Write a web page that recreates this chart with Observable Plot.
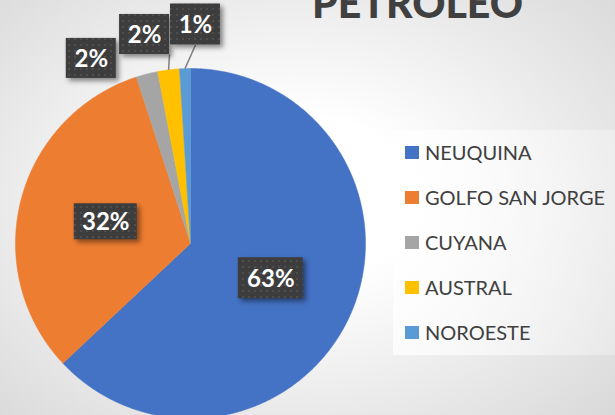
<!DOCTYPE html>
<html>
<head>
<meta charset="utf-8">
<script src="https://cdn.jsdelivr.net/npm/d3@7"></script>
<script src="https://cdn.jsdelivr.net/npm/@observablehq/plot@0.6"></script>
<style>
  html, body { margin: 0; padding: 0; }
  #wrap {
    position: relative; width: 615px; height: 415px; overflow: hidden;
    background: radial-gradient(ellipse 75% 80% at 48% 48%, #ffffff 25%, #d6d6d6 100%);
    font-family: Lato, "Open Sans", sans-serif;
  }
  #title {
    position: absolute; left: 312px; top: -18px; font-size: 41px; font-weight: 900;
    color: #404040; white-space: nowrap; line-height: 1;
  }
  #legend {
    position: absolute; left: 393px; top: 130px; width: 230px; height: 225px;
    background: linear-gradient(90deg, rgba(255,255,255,0.75), rgba(255,255,255,0.25));
  }
  .li { position: absolute; left: 12px; height: 20px; display: flex; align-items: center;
        font-size: 20px; color: #404040; white-space: nowrap; }
  .sw { width: 14px; height: 13px; margin-right: 6px; }
  #chart { position: absolute; left: 0; top: 0; }
  .lbl-box rect { filter: drop-shadow(3px 3px 2.5px rgba(0,0,0,0.45)); }
</style>
</head>
<body>
<div id="wrap">
  <div id="chart"></div>
  <div id="title"></div>
  <div id="legend"></div>
</div>
<script>
// ---- data ----
const title = "PETROLEO";
const categories = ["NEUQUINA", "GOLFO SAN JORGE", "CUYANA", "AUSTRAL", "NOROESTE"];
const values = [63, 32, 2, 2, 1];
const labels = ["63%", "32%", "2%", "2%", "1%"];

// ---- style / layout ----
const colors = ["#4472C4", "#ED7D31", "#A5A5A5", "#FFC000", "#5B9BD5"];
const R = 175, CX = 190, CY = 243;
const labelRadius = [0.5, 0.5, 1.2, 1.223, 1.252];
const labelAngleShiftDeg = [0, 0, -13.8, -5.2, 3.1];
const boxW = [65, 63, 50, 50, 50];
const boxH = [41, 36, 40, 40, 41];
const showLeader = [false, false, false, true, true];

const arcs = d3.pie().sort(null).value(d => d)(values);

// slice polygons
const pts = [];
arcs.forEach((a, i) => {
  const name = categories[i];
  pts.push({name, x: 0, y: 0});
  const n = Math.max(2, Math.ceil((a.endAngle - a.startAngle) / (Math.PI / 360)));
  for (let k = 0; k <= n; k++) {
    const t = a.startAngle + (a.endAngle - a.startAngle) * k / n;
    pts.push({name, x: Math.sin(t), y: Math.cos(t)});
  }
  pts.push({name, x: 0, y: 0});
});

// labels
const u = 1 / R; // data units per pixel
const lab = arcs.map((a, i) => {
  const mid = (a.startAngle + a.endAngle) / 2;
  const ang = mid + labelAngleShiftDeg[i] * Math.PI / 180;
  const x = labelRadius[i] * Math.sin(ang), y = labelRadius[i] * Math.cos(ang);
  const hw = boxW[i] / 2 * u, hh = boxH[i] / 2 * u;
  const ex = Math.sin(mid), ey = Math.cos(mid);
  const anchors = [x - hw, x, x + hw];
  const ax = anchors.reduce((b, c) => Math.abs(c - ex) < Math.abs(b - ex) ? c : b);
  return {text: labels[i], x, y, x1: x - hw, x2: x + hw, y1: y - hh, y2: y + hh,
          lx1: ax, ly1: y - hh, lx2: ex, ly2: ey, leader: showLeader[i]};
});

const plot = Plot.plot({
  width: 615, height: 415,
  margin: 0,
  style: {background: "transparent", overflow: "visible"},
  x: {domain: [-1, 1], range: [CX - R, CX + R], axis: null},
  y: {domain: [-1, 1], range: [CY + R, CY - R], axis: null},
  color: {domain: categories, range: colors},
  marks: [
    Plot.line(pts, {x: "x", y: "y", z: "name", fill: "name", stroke: "name", strokeWidth: 0.5, curve: "linear"}),
    Plot.link(lab.filter(d => d.leader), {x1: "lx1", y1: "ly1", x2: "lx2", y2: "ly2", stroke: "#808080", strokeWidth: 1.5}),
    Plot.rect(lab, {x1: "x1", x2: "x2", y1: "y1", y2: "y2", fill: "#404040", className: "lbl-box"}),
    Plot.text(lab, {x: "x", y: "y", text: "text", fill: "white", fontSize: 24, fontWeight: "bold",
                    fontFamily: "Lato, sans-serif", dy: 1})
  ]
});

// dotted texture for label boxes
const svg = d3.select(plot);
const defs = svg.insert("defs", ":first-child");
const pat = defs.append("pattern").attr("id", "dots").attr("patternUnits", "userSpaceOnUse")
  .attr("width", 6).attr("height", 6);
pat.append("rect").attr("width", 6).attr("height", 6).attr("fill", "#3d3d3d");
pat.append("rect").attr("x", 2).attr("y", 2).attr("width", 2).attr("height", 2).attr("fill", "#4e4e4e");
svg.selectAll(".lbl-box rect").attr("fill", "url(#dots)");

document.getElementById("chart").appendChild(plot);
document.getElementById("title").textContent = title;

const leg = document.getElementById("legend");
categories.forEach((c, i) => {
  const row = document.createElement("div");
  row.className = "li";
  row.style.top = (12 + i * 45) + "px";
  const sw = document.createElement("span");
  sw.className = "sw"; sw.style.background = colors[i];
  const tx = document.createElement("span");
  tx.textContent = c;
  row.appendChild(sw); row.appendChild(tx);
  leg.appendChild(row);
});
</script>
</body>
</html>
